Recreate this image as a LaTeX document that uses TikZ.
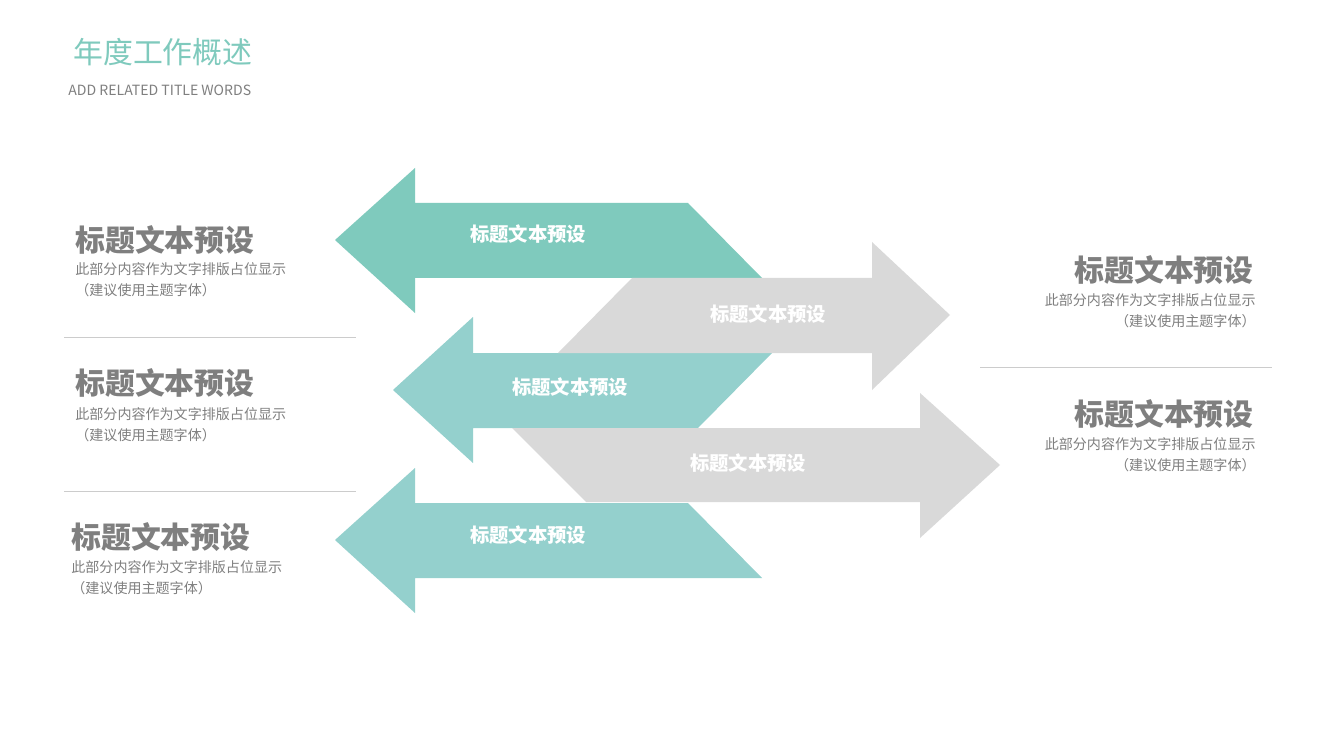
\documentclass[tikz,border=0pt]{standalone}
\usepackage{fontspec}
\setmainfont{Noto Sans CJK SC}
\usetikzlibrary{positioning}
\definecolor{teal1}{HTML}{7FCABD}
\definecolor{teal2}{HTML}{94D0CD}
\definecolor{grayarrow}{HTML}{D9D9D9}
\definecolor{textgray}{HTML}{7F7F7F}
\definecolor{titleteal}{HTML}{7FCABD}
\tikzset{
  heading/.style={font=\fontsize{17}{18}\selectfont\bfseries,text=textgray,inner sep=0pt},
  small/.style={font=\fontsize{8}{9}\selectfont,text=textgray,inner sep=0pt},
  arrowtext/.style={font=\fontsize{11}{12}\selectfont\bfseries,text=white,inner sep=0pt},
  sep/.style={gray!40,thin}
}
\begin{document}
\begin{tikzpicture}[x=0.02cm,y=-0.02cm]
\useasboundingbox[fill=white] (0,0) rectangle (1320,740);

    % Title
    \node[anchor=west,inner sep=0pt,text=titleteal,font=\fontsize{17}{18}\selectfont] (title) at (73,52) {年度工作概述};
    \node[anchor=west,inner sep=0pt,text=textgray,font=\fontsize{8}{9}\selectfont] (subtitle) at (68,90) {ADD RELATED TITLE WORDS};

    % Arrows
    \fill[teal1] (335,240) -- (415,168) -- (415,203) -- (688,203) -- (762,278) -- (415,278) -- (415,313) -- cycle;
    \fill[teal2] (393,390) -- (473,317) -- (473,353) -- (772,353) -- (698,428) -- (473,428) -- (473,463) -- cycle;
    \fill[grayarrow] (950,315) -- (872,242) -- (872,278) -- (632,278) -- (558,353) -- (872,353) -- (872,390) -- cycle;
    \fill[grayarrow] (1000,465) -- (920,393) -- (920,428) -- (512,428) -- (586,502) -- (920,502) -- (920,538) -- cycle;
    \fill[teal2] (335,540) -- (415,468) -- (415,503) -- (688,503) -- (762,578) -- (415,578) -- (415,613) -- cycle;

    \node[arrowtext] (a1) at (528,234) {标题文本预设};
    \node[arrowtext] (a2) at (768,314) {标题文本预设};
    \node[arrowtext] (a3) at (570,387) {标题文本预设};
    \node[arrowtext] (a4) at (748,463) {标题文本预设};
    \node[arrowtext] (a5) at (528,535) {标题文本预设};

    % Left blocks
    \node[heading,anchor=west] (h1) at (75,240) {标题文本预设};
    \node[small,anchor=west] (t1) at (75,269) {此部分内容作为文字排版占位显示};
    \node[small,anchor=west] (u1) at (75,290) {（建议使用主题字体）};
    \draw[sep] (64,337) -- (356,337);
    \node[heading,anchor=west] (h2) at (75,383) {标题文本预设};
    \node[small,anchor=west] (t2) at (75,414) {此部分内容作为文字排版占位显示};
    \node[small,anchor=west] (u2) at (75,435) {（建议使用主题字体）};
    \draw[sep] (64,491) -- (356,491);
    \node[heading,anchor=west] (h3) at (71,537) {标题文本预设};
    \node[small,anchor=west] (t3) at (71,567) {此部分内容作为文字排版占位显示};
    \node[small,anchor=west] (u3) at (71,588) {（建议使用主题字体）};

    % Right blocks
    \node[heading,anchor=east] (h4) at (1254,270) {标题文本预设};
    \node[small,anchor=east] (t4) at (1256,300) {此部分内容作为文字排版占位显示};
    \node[small,anchor=east] (u4) at (1256,321) {（建议使用主题字体）};
    \draw[sep] (980,367) -- (1272,367);
    \node[heading,anchor=east] (h5) at (1254,414) {标题文本预设};
    \node[small,anchor=east] (t5) at (1256,444) {此部分内容作为文字排版占位显示};
    \node[small,anchor=east] (u5) at (1256,465) {（建议使用主题字体）};
\end{tikzpicture}
\end{document}
